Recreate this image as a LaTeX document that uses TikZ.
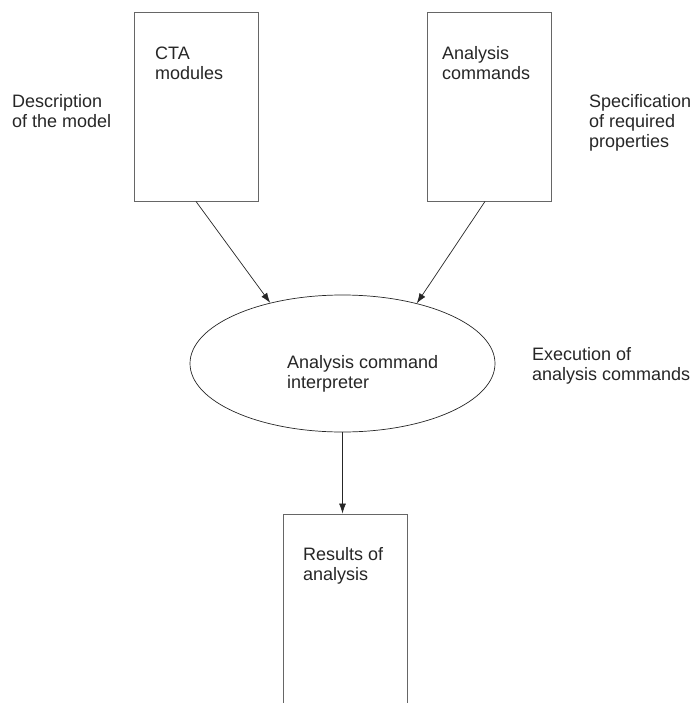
\documentclass[tikz,border=0pt]{standalone}
\usepackage{fontspec}
\setmainfont{Liberation Sans}
\usetikzlibrary{arrows.meta,positioning,shapes.geometric,calc}

\begin{document}
\begin{tikzpicture}[
    x=1pt, y=-1pt,
    font=\fontsize{18}{20}\selectfont,
    % Reusable styles
    box/.style={
      draw=black!60,
      line width=0.9pt,
      inner sep=0pt,
      minimum width=124pt,
      minimum height=189pt
    },
    proc/.style={
      ellipse,
      draw=black!85,
      line width=0.7pt,
      inner sep=0pt,
      minimum width=305pt,
      minimum height=137pt
    },
    txt/.style={align=left, inner sep=0pt, anchor=base west, text=black!85},
    arrow/.style={-{Latex[length=10pt,width=7pt]}, line width=0.7pt, draw=black!85}
  ]
  \useasboundingbox (0,0) rectangle (691,703);
  \clip (0,0) rectangle (691,703);

  % Inputs (text anchored at the baseline of its last line)
  \node[box] (cta) at (196,106.5) {};
  \node[box] (cmds) at (489,106.5) {};
  \node[txt] (ctatext) at (155,80) {CTA\\modules};
  \node[txt] (cmdstext) at (442,80) {Analysis\\commands};

  % Interpreter
  \node[proc] (interp) at (342.5,363.5) {};
  \node[txt] (interptext) at (287,388) {Analysis command\\interpreter};

  % Output box, cut off by the lower edge
  \node[box, minimum height=260pt] (results) at (345,644) {};
  \node[txt] (resultstext) at (303,580) {Results of\\analysis};

  % Side notes
  \node[txt] (descr) at (12,128) {Description\\of the model};
  \node[txt] (spec) at (589,148) {Specification\\of required\\properties};
  \node[txt] (exec) at (532,380) {Execution of\\analysis commands};

  % Connectors
  \draw[arrow] (cta.south) -- (interp.140);
  \draw[arrow] ($(cmds.south)+(-4,0)$) -- (interp.39);
  \draw[arrow] (interp.south) -- (interp.south |- results.north);
\end{tikzpicture}
\end{document}
